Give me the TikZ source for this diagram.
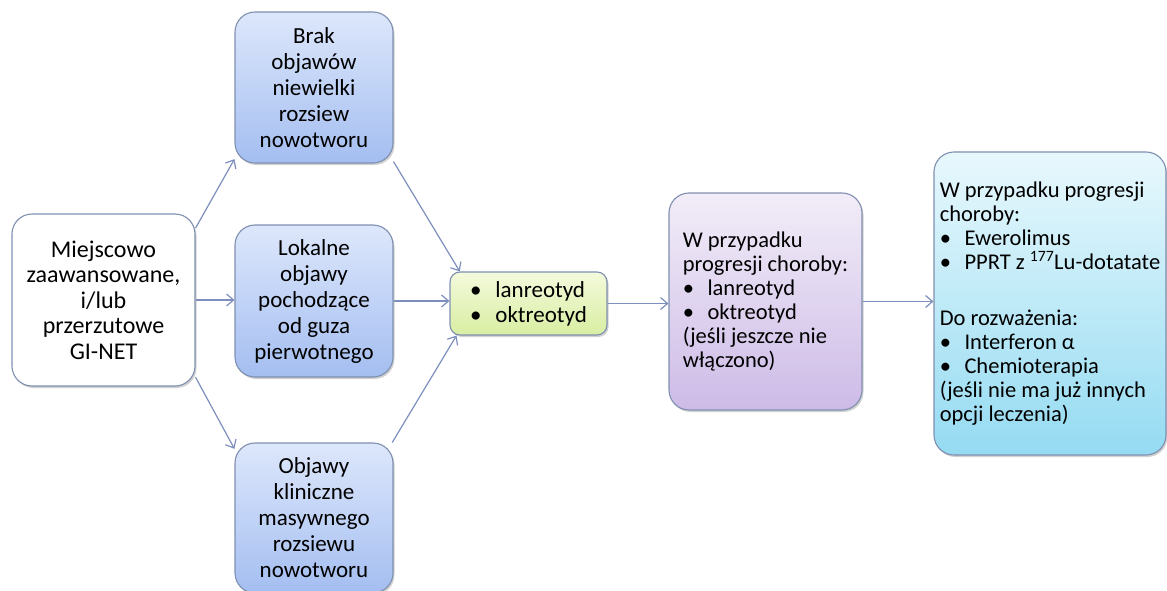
\documentclass[tikz,border=0pt]{standalone}
\usepackage{fontspec}
\setmainfont{Carlito}
\usetikzlibrary{arrows.meta,shadows}

\definecolor{ramka}{HTML}{7F8FB0}
\definecolor{strz}{HTML}{7D8FBC}
\definecolor{nieb1}{HTML}{DDE7FB}
\definecolor{nieb2}{HTML}{A4BEF1}
\definecolor{ziel1}{HTML}{F4FADC}
\definecolor{ziel2}{HTML}{D8EEA2}
\definecolor{fiol1}{HTML}{F2EDF8}
\definecolor{fiol2}{HTML}{CDBBE7}
\definecolor{cyj1}{HTML}{E8F8FD}
\definecolor{cyj2}{HTML}{95DBF2}

\newcommand{\pkt}{\makebox[1.1em][l]{\textbullet}}

\begin{document}
\begin{tikzpicture}[x=1pt, y=-1pt,
  box/.style={draw=ramka, line width=1.1pt, rounded corners=20pt, inner sep=0pt,
    align=center, font=\fontsize{23}{26}\selectfont,
    drop shadow={shadow xshift=1.5pt, shadow yshift=-2pt, opacity=0.18, fill=black}},
  blubox/.style={box, top color=nieb1, bottom color=nieb2},
  arr/.style={-{Straight Barb[length=7pt,width=12pt]}, draw=strz, line width=1.2pt}]
  \useasboundingbox (0,0) rectangle (1167,591);
  \clip (0,0) rectangle (1167,591);

  \node[box, fill=white, minimum width=183pt, minimum height=172pt,
    font=\fontsize{24}{25.5}\selectfont] (st) at (103.5,300)
    {Miejscowo\\zaawansowane,\\i/lub\\przerzutowe\\GI-NET};

  \node[blubox, minimum width=158pt, minimum height=151pt] (b1) at (314,87.5)
    {Brak\\objawów\\niewielki\\rozsiew\\nowotworu};
  \node[blubox, minimum width=158pt, minimum height=152pt] (b2) at (314,301)
    {Lokalne\\objawy\\pochodzące\\od guza\\pierwotnego};
  \node[blubox, minimum width=158pt, minimum height=150pt] (b3) at (314,518)
    {Objawy\\kliniczne\\masywnego\\rozsiewu\\nowotworu};

  \node[box, rounded corners=10pt, top color=ziel1, bottom color=ziel2,
    minimum width=157pt, minimum height=63pt, align=left,
    font=\fontsize{23}{25}\selectfont] (lek) at (528.5,303.5)
    {\pkt lanreotyd\\\pkt oktreotyd};

  \node[box, top color=fiol1, bottom color=fiol2, minimum width=193pt,
    minimum height=217pt, align=left, font=\fontsize{22.5}{24}\selectfont]
    (pr) at (765.5,301.5)
    {W przypadku\\progresji choroby:\\\pkt lanreotyd\\\pkt oktreotyd\\(jeśli jeszcze nie\\włączono)};

  \node[box, top color=cyj1, bottom color=cyj2, minimum width=232pt,
    minimum height=303pt, align=left, font=\fontsize{22.5}{24}\selectfont]
    (dal) at (1050,303.5)
    {W przypadku progresji\\choroby:\\\pkt Ewerolimus\\\pkt PPRT z \textsuperscript{177}Lu-dotatate\\[32pt]
     Do rozważenia:\\\pkt Interferon α\\\pkt Chemioterapia\\(jeśli nie ma już innych\\opcji leczenia)};

  \draw[arr] (st.38) -- (b1.222);
  \draw[arr] (st.east) -- (st.east -| b2.west);
  \draw[arr] (st.-40) -- (b3.139);
  \draw[arr] (b1.-43) -- (lek.155);
  \draw[arr] (b2.east) -- (b2.east -| lek.west);
  \draw[arr] (b3.44) -- (lek.204);
  \draw[arr] (lek.east) -- (lek.east -| pr.west);
  \draw[arr] (pr.east) -- (pr.east -| dal.west);
\end{tikzpicture}
\end{document}
